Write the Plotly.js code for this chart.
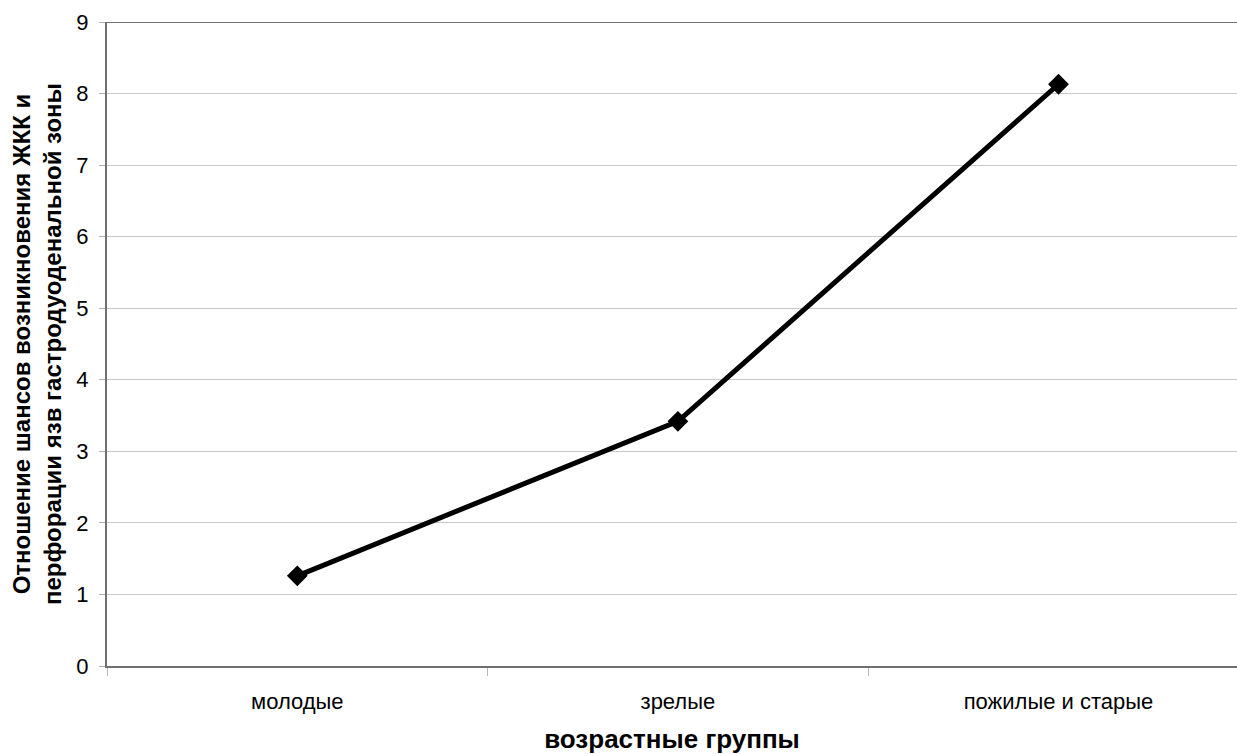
<!DOCTYPE html>
<html>
<head>
<meta charset="utf-8">
<script src="https://cdn.plot.ly/plotly-3.0.1.min.js"></script>
<style>html,body{margin:0;padding:0;background:#fff;}#chart{width:1237px;height:754px;}</style>
</head>
<body>
<div id="chart"></div>
<script>
const categories = ["молодые", "зрелые", "пожилые и старые"];
const oddsRatio = [1.26, 3.42, 8.13];
const yTicks = [0, 1, 2, 3, 4, 5, 6, 7, 8, 9];

const trace = {
  x: categories,
  y: oddsRatio,
  type: "scatter",
  mode: "lines+markers",
  line: {color: "#000", width: 5},
  marker: {symbol: "diamond", size: 16, color: "#000"},
  cliponaxis: false,
  hoverinfo: "x+y"
};

const layout = {
  width: 1237,
  height: 754,
  margin: {l: 107, r: 0, t: 22, b: 88},
  paper_bgcolor: "#fff",
  plot_bgcolor: "#fff",
  showlegend: false,
  font: {family: "Liberation Sans, Arial, sans-serif", color: "#000", size: 22},
  xaxis: {
    type: "category",
    range: [-0.5, 2.469],
    tickson: "boundaries",
    ticks: "outside",
    ticklen: 8,
    tickcolor: "#b8b8b8",
    showgrid: false,
    showline: true,
    linecolor: "#707070",
    linewidth: 2,
    zeroline: false,
    automargin: false,
    tickfont: {size: 22},
    ticklabelstandoff: 15,
    title: {text: "<b>возрастные группы</b>", font: {size: 26}, standoff: 20}
  },
  yaxis: {
    range: [0, 9],
    tickvals: yTicks,
    ticks: "outside",
    ticklen: 6,
    tickcolor: "#b0b0b0",
    showgrid: true,
    gridcolor: "#c8c8c8",
    gridwidth: 1,
    showline: true,
    linecolor: "#707070",
    linewidth: 2,
    zeroline: false,
    automargin: false,
    tickfont: {size: 22},
    ticklabelstandoff: 6,
    title: {text: "<b>Отношение шансов возникновения ЖКК и<br>перфорации язв гастродуоденальной зоны</b>", font: {size: 24}, standoff: 8}
  },
  shapes: [{
    type: "line", xref: "paper", yref: "y", x0: 0, x1: 1, y0: 9, y1: 9,
    line: {color: "#707070", width: 2}
  }]
};

Plotly.newPlot("chart", [trace], layout, {displayModeBar: false, staticPlot: true});
</script>
</body>
</html>
